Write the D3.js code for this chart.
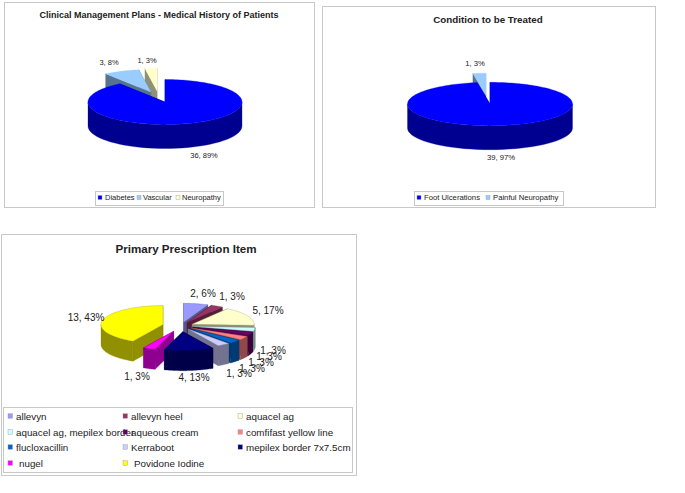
<!DOCTYPE html>
<html>
<head>
<meta charset="utf-8">
<script src="https://cdn.jsdelivr.net/npm/d3@7"></script>
<style>
  body { margin: 0; background: #fff; }
  text { font-family: "Liberation Sans", Arial, sans-serif; fill: #222; }
</style>
</head>
<body>
<div id="visualization"></div>
<script>
// chart 1
let historyNames = ["Diabetes", "Vascular", "Neuropathy"];
let historyValues = [36, 3, 1];
let historyLabels = ["36, 89%", "3, 8%", "1, 3%"];
let historyColors = ["#0000ff", "#99ccff", "#ffffcc"];

// chart 2
let conditionNames = ["Foot Ulcerations", "Painful Neuropathy"];
let conditionValues = [39, 1];
let conditionLabels = ["39, 97%", "1, 3%"];
let conditionColors = ["#0000ff", "#99ccff"];

// chart 3
let itemNames = ["allevyn", "allevyn heel", "aquacel ag", "aquacel ag, mepilex border", "aqueous cream",
  "comfifast yellow line", "flucloxacillin", "Kerraboot", "mepilex border 7x7.5cm", " nugel", " Povidone Iodine"];
let itemValues = [2, 1, 5, 1, 1, 1, 1, 1, 4, 1, 13];
let itemLabels = ["2, 6%", "1, 3%", "5, 17%", "1, 3%", "1, 3%", "1, 3%", "1, 3%", "1, 3%", "4, 13%", "1, 3%", "13, 43%"];
let itemColors = ["#9999ff", "#993366", "#ffffcc", "#ccffff", "#660066", "#ff8080", "#0066cc", "#ccccff", "#000080", "#ff00ff", "#ffff00"];

let w = 685;
let h = 493;

let viz = d3.select("#visualization")
  .append("svg")
  .attr("width", w)
  .attr("height", h)
  .style("display", "block")
  .style("background-color", "white");

// box around a chart
function panel(x0, y0, x1, y1) {
  viz.append("rect")
    .attr("x", x0 + 0.5).attr("y", y0 + 0.5)
    .attr("width", x1 - x0).attr("height", y1 - y0)
    .attr("fill", "none").attr("stroke", "#c8c8c8").attr("stroke-width", 1);
}

function title(str, x, y, size) {
  viz.append("text").attr("x", x).attr("y", y)
    .attr("text-anchor", "middle")
    .attr("font-size", size).attr("font-weight", "bold")
    .text(str);
}

// pseudo 3d pie, the angles come from d3.pie and get squashed into an ellipse
function pie3d(opt) {
  let xScale = d3.scaleLinear().domain([-1, 1]).range([opt.cx - opt.rx, opt.cx + opt.rx]);
  let yScale = d3.scaleLinear().domain([-1, 1]).range([opt.cy + opt.ry, opt.cy - opt.ry]);
  let line = d3.line().x(d => xScale(Math.sin(d))).y(d => yScale(Math.cos(d)));

  let slices = d3.pie().sort(null).value(d => d)(opt.values).map((s, i) => {
    s.i = i;
    s.mid = (s.startAngle + s.endAngle) / 2;
    s.color = opt.colors[i];
    s.dark = d3.rgb(s.color).darker(1.6).formatHex();
    return s;
  });

  // back slices first
  slices.sort((a, b) => Math.cos(b.mid) - Math.cos(a.mid));

  slices.forEach(s => {
    let e = opt.explode[s.i];
    let dx = e * opt.rx * Math.sin(s.mid) + (opt.nudge ? opt.nudge[s.i] : 0);
    let dy = -e * opt.ry * Math.cos(s.mid);
    let g = viz.append("g").attr("transform", "translate(" + dx + "," + dy + ")");
    let outline = 0.3;

    // the two cut faces
    [s.startAngle, s.endAngle].forEach(a => {
      let px = xScale(Math.sin(a)), py = yScale(Math.cos(a));
      g.append("path")
        .attr("d", d3.line()([[opt.cx, opt.cy], [px, py], [px, py + opt.depth], [opt.cx, opt.cy + opt.depth]]) + "Z")
        .attr("fill", s.dark).attr("stroke", s.dark).attr("stroke-width", outline);
    });

    // curved wall, only the part facing us
    let a0 = Math.max(s.startAngle, Math.PI / 2);
    let a1 = Math.min(s.endAngle, Math.PI * 1.5);
    if (a1 > a0) {
      let arc = d3.range(0, 41).map(k => a0 + (a1 - a0) * k / 40);
      let upper = arc.map(a => [xScale(Math.sin(a)), yScale(Math.cos(a))]);
      let lower = upper.map(p => [p[0], p[1] + opt.depth]).reverse();
      g.append("path")
        .attr("d", d3.line()(upper.concat(lower)) + "Z")
        .attr("fill", s.dark).attr("stroke", s.dark).attr("stroke-width", outline);
    }

    // top
    let steps = Math.max(4, Math.ceil((s.endAngle - s.startAngle) * 30));
    let top = d3.range(0, steps + 1).map(k => s.startAngle + (s.endAngle - s.startAngle) * k / steps);
    g.append("path")
      .attr("d", "M" + opt.cx + "," + opt.cy + "L" + line(top).slice(1) + "Z")
      .attr("fill", s.color).attr("stroke", opt.topStroke ? s.dark : s.color).attr("stroke-width", outline);
  });

  // data labels go on top of everything
  opt.labels.forEach((d, i) => {
    viz.append("text")
      .attr("x", opt.labelPos[i][0]).attr("y", opt.labelPos[i][1])
      .attr("text-anchor", "middle")
      .attr("font-size", opt.labelSize)
      .text(d);
  });
}

function legendBox(x0, y0, x1, y1) {
  viz.append("rect")
    .attr("x", x0 + 0.5).attr("y", y0 + 0.5)
    .attr("width", x1 - x0).attr("height", y1 - y0)
    .attr("fill", "white").attr("stroke", "#c8c8c8").attr("stroke-width", 1);
}

function legendItem(name, color, sx, tx, y, sw, size) {
  viz.append("text").attr("x", tx).attr("y", y + size * 0.36)
    .attr("font-size", size)
    .text(name.trim());
  viz.append("rect")
    .attr("x", sx).attr("y", y - sw / 2)
    .attr("width", sw).attr("height", sw)
    .attr("fill", color).attr("stroke", "#999").attr("stroke-width", 0.4);
}

// ---- chart 1
panel(4, 2, 314, 207);
title("Clinical Management Plans - Medical History of Patients", 159, 18, 9);
pie3d({
  cx: 165, cy: 102, rx: 77, ry: 22.5, depth: 24,
  values: historyValues, colors: historyColors, labels: historyLabels,
  explode: [0, 0.48, 0.5], nudge: [0, 0, -5],
  labelPos: [[204, 158], [109, 65], [147, 63]], labelSize: 7.5
});
legendBox(95, 191, 223, 205);
[98, 137, 176].forEach((sx, i) => legendItem(historyNames[i], historyColors[i], sx, [105, 143, 182][i], 197.5, 4, 7.5));

// ---- chart 2
panel(322, 6, 655, 207);
title("Condition to be Treated", 488, 23, 9.8);
pie3d({
  cx: 490, cy: 104, rx: 82.5, ry: 21.7, depth: 24,
  values: conditionValues, colors: conditionColors, labels: conditionLabels,
  explode: [0, 0.42], nudge: [0, -1.5],
  labelPos: [[501, 160], [475, 66]], labelSize: 7.7
});
legendBox(414, 191, 563, 205);
[417, 486].forEach((sx, i) => legendItem(conditionNames[i], conditionColors[i], sx, [424, 493][i], 197.5, 4, 7.7));

// ---- chart 3
panel(1, 234, 356, 475);
title("Primary Prescription Item", 186, 253, 11.6);
pie3d({
  cx: 181, cy: 326, rx: 62, ry: 19, depth: 20,
  values: itemValues, colors: itemColors, labels: itemLabels,
  explode: [0.2, 0.2, 0.2, 0.2, 0.2, 0.2, 0.2, 0.2, 0.3, 0.3, 0.3],
  topStroke: true,
  labelPos: [[203, 297], [232, 300], [268, 314], [239, 377], [252, 372], [261, 366], [269, 360], [273, 354], [194, 381], [137, 380], [86, 321]],
  labelSize: 10
});
legendBox(3, 407, 352, 472);
let legendCols = [[8, 16], [123, 131], [238, 246]];
let legendRows = [416, 432, 447, 463];
itemNames.forEach((name, i) => {
  let col = legendCols[i % 3];
  let tx = col[1] + (name.startsWith(" ") ? 3 : 0);
  legendItem(name, itemColors[i], col[0], tx, legendRows[Math.floor(i / 3)], 4.5, 9.8);
});
</script>
</body>
</html>
